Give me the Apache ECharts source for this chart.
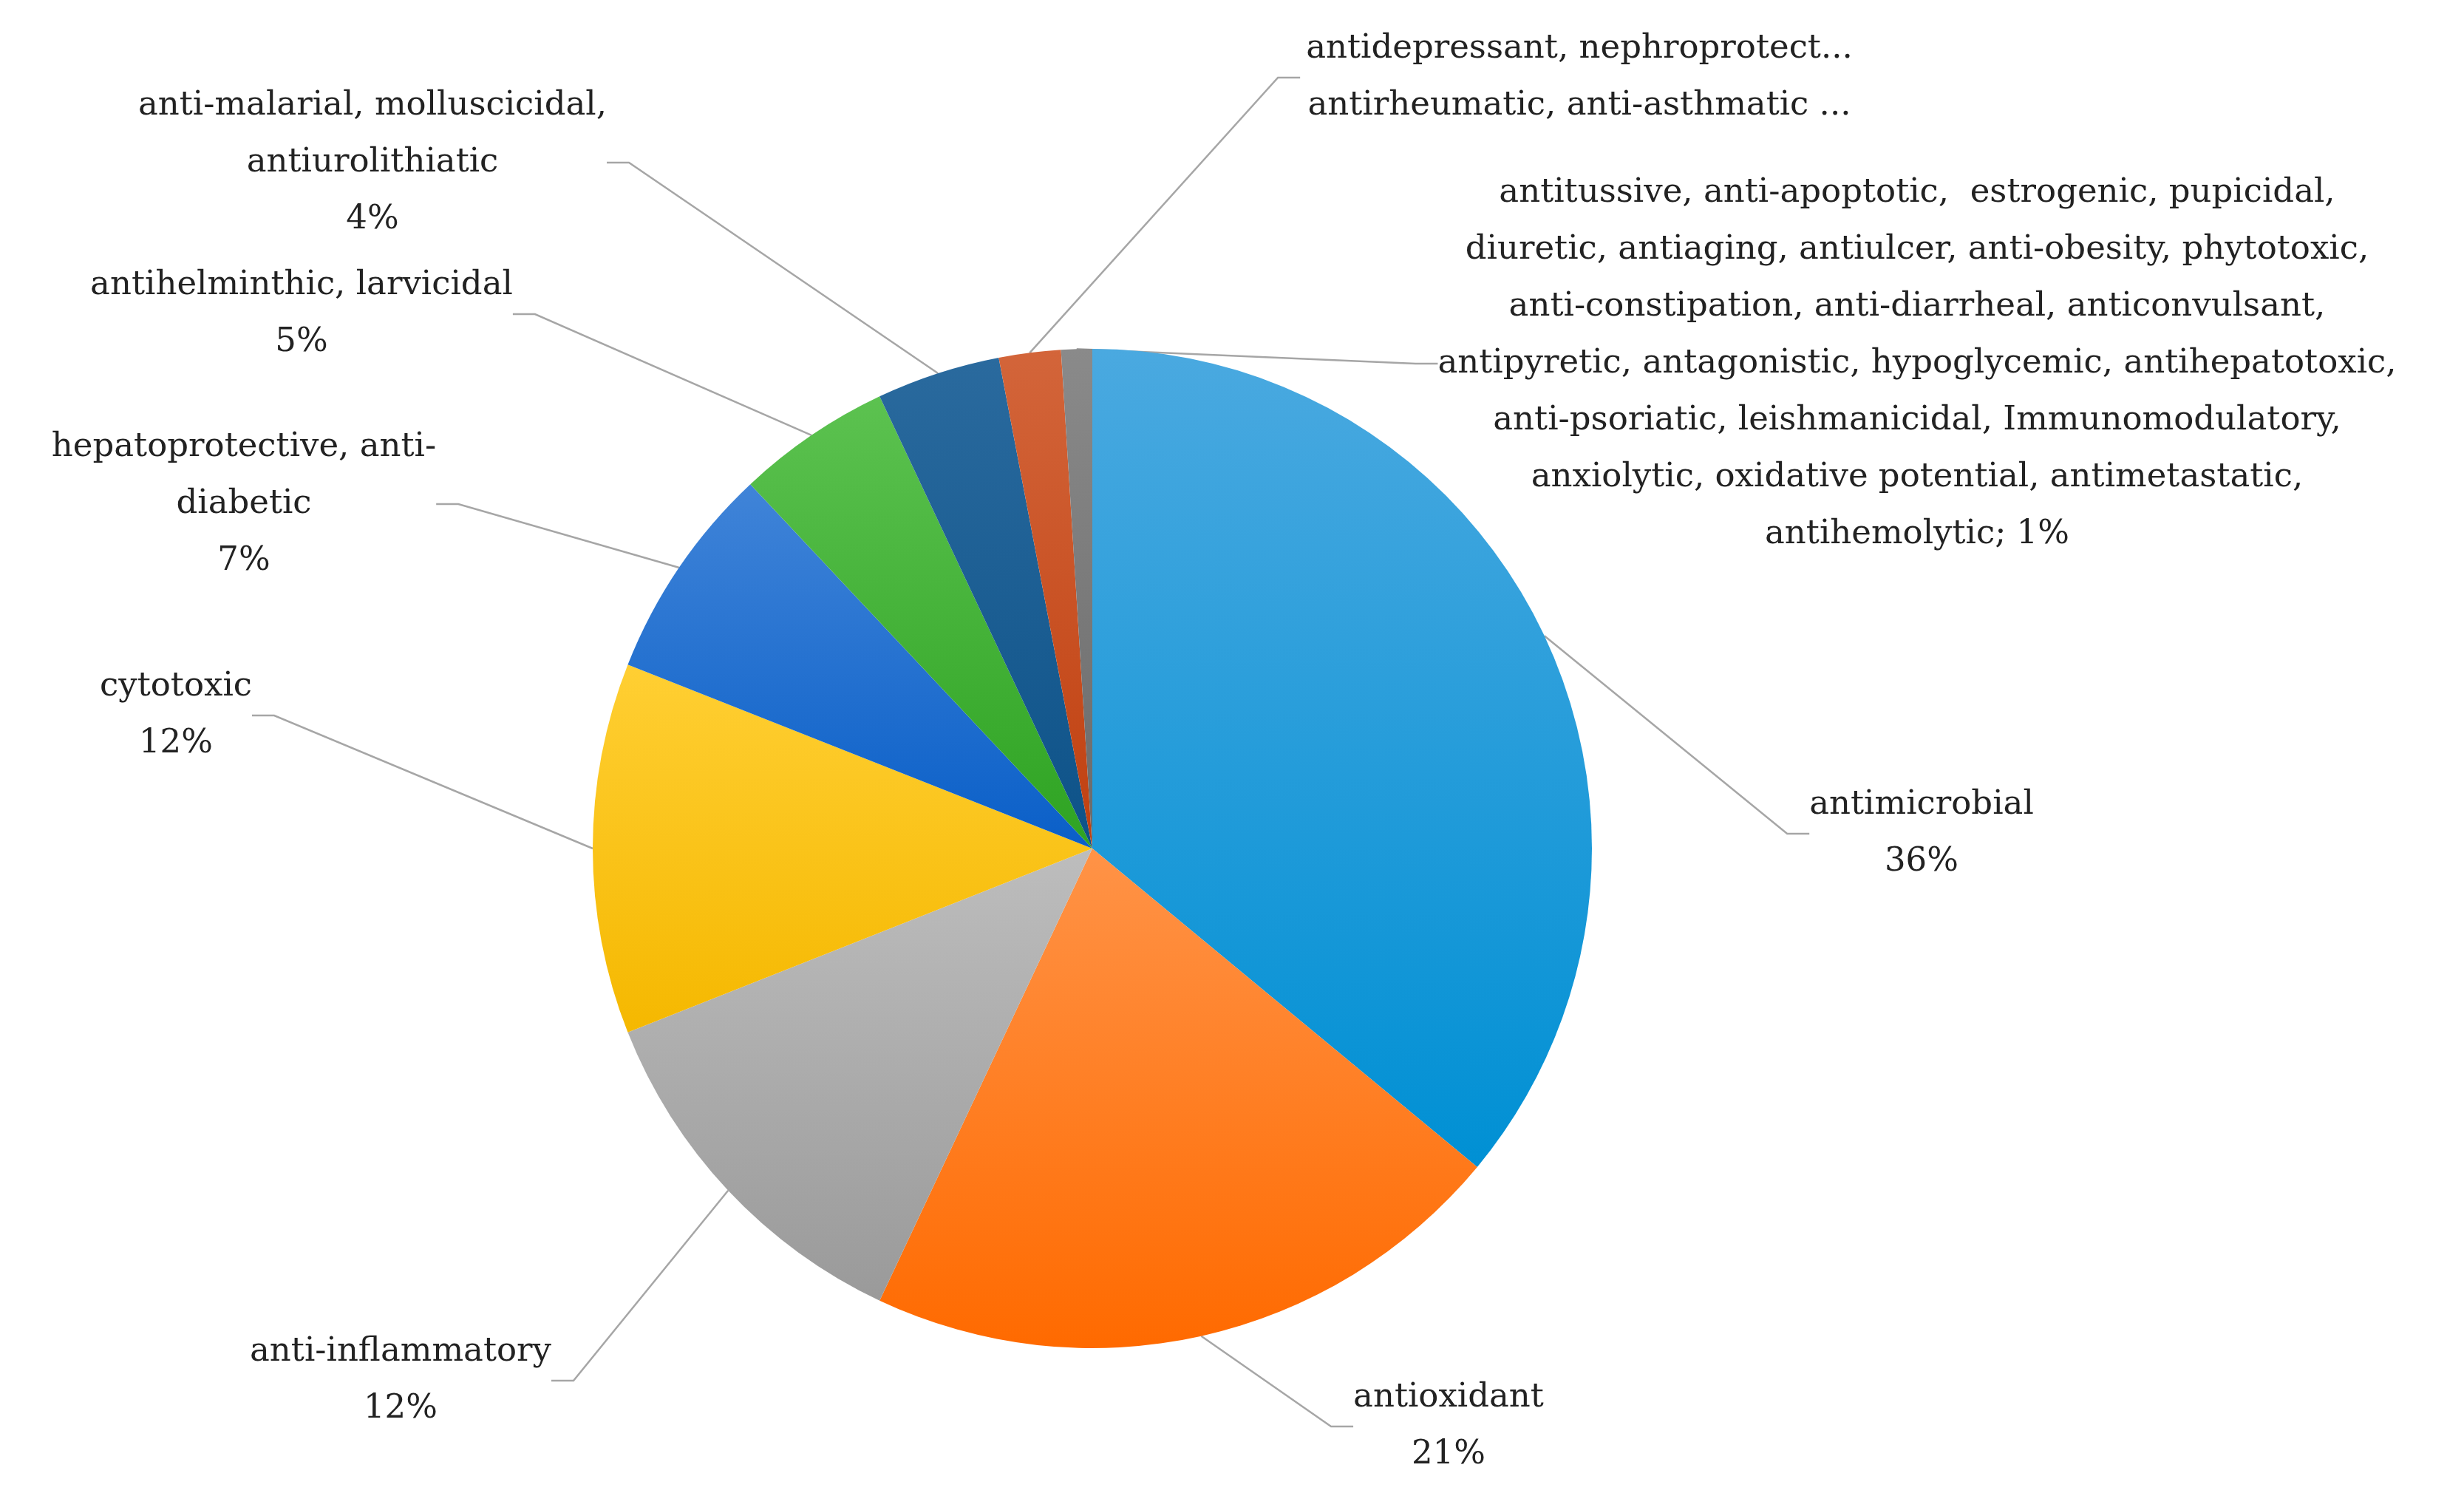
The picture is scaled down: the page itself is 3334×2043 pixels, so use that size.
<!DOCTYPE html>
<html>
<head>
<meta charset="utf-8">
<script src="https://cdn.jsdelivr.net/npm/echarts@6/dist/echarts.min.js"></script>
<style>html,body{margin:0;background:#fff}#chart{width:3334px;height:2043px}</style>
</head>
<body>
<div id="chart"></div>
<script>
var categories = [
    'antimicrobial\n36%',
    'antioxidant\n21%',
    'anti-inflammatory\n12%',
    'cytotoxic\n12%',
    'hepatoprotective, anti-\ndiabetic\n7%',
    'antihelminthic, larvicidal\n5%',
    'anti-malarial, molluscicidal,\nantiurolithiatic\n4%',
    'antidepressant, nephroprotective, analgesic,\nantirheumatic, anti-asthmatic 2%',
    'antitussive, anti-apoptotic,  estrogenic, pupicidal,\ndiuretic, antiaging, antiulcer, anti-obesity, phytotoxic,\nanti-constipation, anti-diarrheal, anticonvulsant,\nantipyretic, antagonistic, hypoglycemic, antihepatotoxic,\nanti-psoriatic, leishmanicidal, Immunomodulatory,\nanxiolytic, oxidative potential, antimetastatic,\nantihemolytic; 1%'
];
var values = [36, 21, 12, 12, 7, 5, 4, 2, 1];
var topColors = ['#4aa9e0', '#ff9347', '#bdbdbd', '#ffcf33', '#4084d8', '#5cc250', '#2a6a9e', '#d3653a', '#8a8a8a'];
var bottomColors = ['#0090d4', '#ff6a00', '#9a9a9a', '#f5b800', '#0a5fc8', '#2ea322', '#0d5288', '#c04010', '#6a6a6a'];

// label anchor points (text position only)
var labelPos = [
    [2600, 1128, 'center'], [1960, 1930, 'center'], [542, 1868, 'center'],
    [238, 968, 'center'], [330, 682, 'center'], [408, 425, 'center'],
    [504, 220, 'center'], [2137, 105, 'center'], [2594, 492, 'center']
];

var myChart = echarts.init(document.getElementById('chart'));
var data = values.map(function (v, i) {
    return {
        name: categories[i],
        value: v,
        itemStyle: {
            color: new echarts.graphic.LinearGradient(0, 0, 0, 1, [
                { offset: 0, color: topColors[i] },
                { offset: 1, color: bottomColors[i] }
            ])
        }
    };
});

var option = {
    backgroundColor: '#fff',
    series: [{
        type: 'pie',
        center: [1478, 1148],
        radius: 676,
        startAngle: 90,
        clockwise: true,
        animation: false,
        data: data,
        itemStyle: { borderColor: '#fff', borderWidth: 0 },
        label: {
            show: true,
            formatter: '{b}',
            fontFamily: 'DejaVu Serif',
            fontSize: 45,
            lineHeight: 77,
            color: '#222',
            align: 'center'
        },
        labelLine: { show: true, lineStyle: { color: '#a6a6a6', width: 2.5 } },
        labelLayout: function (p) {
            var pos = labelPos[p.dataIndex];
            return { x: pos[0], y: pos[1], align: pos[2], verticalAlign: 'middle' };
        }
    }]
};

myChart.setOption(option);
</script>
</body>
</html>
